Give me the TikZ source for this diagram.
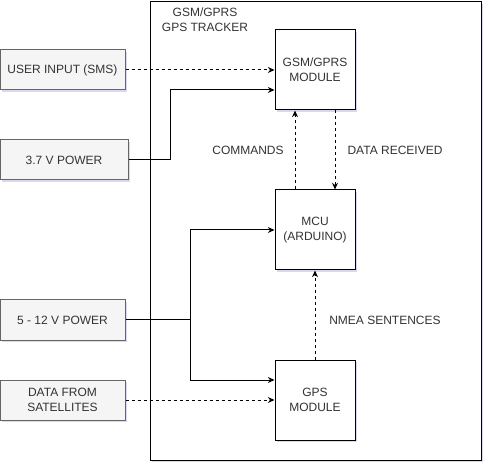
\documentclass[tikz,border=0pt]{standalone}
\usepackage{fontspec}
\setmainfont{Liberation Sans}
\usetikzlibrary{positioning}
\usetikzlibrary{calc}
\usetikzlibrary{arrows.meta}
\usetikzlibrary{shadows}

\begin{document}
\begin{tikzpicture}[x=0.75pt,y=-0.75pt,font=\fontsize{9}{11}\selectfont,
    shd/.style={drop shadow={shadow xshift=1.5pt,shadow yshift=-1.5pt,fill=black!40!blue!30,opacity=0.5}},
    srcbox/.style={draw=black!60,fill=black!4,line width=0.75pt,minimum width=93.75pt,minimum height=30pt,align=center,text=black!80,shd},
    modbox/.style={draw=black,fill=white,line width=0.75pt,minimum width=60pt,minimum height=60pt,align=center,text=black!80,shd},
    lbl/.style={text=black!80,align=center},
    arr/.style={line width=0.75pt,-{Stealth[length=5pt,width=4.5pt]}},
    darr/.style={arr,dash pattern=on 2.25pt off 2.25pt}]
  \useasboundingbox (0,0) rectangle (489,470);
  % container
  \draw[line width=0.75pt,fill=white,shd] (150,2) rectangle (481,460);
  \node[lbl] (tracker) at (205,20) {GSM/GPRS\\GPS TRACKER};
  % modules
  \node[modbox] (gsm) at (315,70) {GSM/GPRS\\MODULE};
  \node[modbox] (mcu) at (315,230) {MCU\\(ARDUINO)};
  \node[modbox] (gps) at (315,400) {GPS\\MODULE};
  % sources
  \node[srcbox] (user) at (62.5,70) {USER INPUT (SMS)};
  \node[srcbox,minimum width=96pt] (pw37) at (64,160) {3.7 V POWER};
  \node[srcbox] (pw512) at (62.5,320) {5 - 12 V POWER};
  \node[srcbox] (sat) at (62.5,400) {DATA FROM\\SATELLITES};
  \coordinate (j37) at (170,90);
  \coordinate (split) at (190,320);
  % links
  \draw[darr] (user) -- (gsm);
  \draw[arr] (pw37.east) -| (j37) -- (gsm.west |- j37);
  \draw[line width=0.75pt] (pw512.east) -- (split);
  \draw[arr] (split) |- (mcu.west);
  \draw[arr] (split) |- (gps.west |- 0,380);
  \draw[darr] (sat) -- (gps);
  \draw[darr] ([xshift=15pt]gsm.south) -- ([xshift=15pt]mcu.north);
  \draw[darr] ([xshift=-15pt]mcu.north) -- ([xshift=-15pt]gsm.south);
  \draw[darr] (gps) -- (mcu);
  \node[lbl] (cmd) at (248,150) {COMMANDS};
  \node[lbl] (rcv) at (395,150) {DATA RECEIVED};
  \node[lbl] (nmea) at (385,320) {NMEA SENTENCES};
\end{tikzpicture}
\end{document}
